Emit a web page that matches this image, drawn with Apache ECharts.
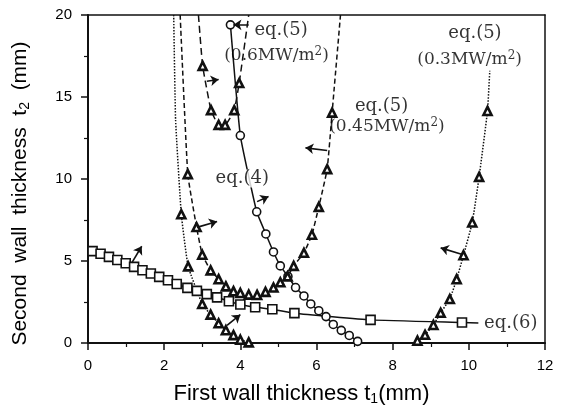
<!DOCTYPE html>
<html>
<head>
<meta charset="utf-8">
<script src="https://cdn.jsdelivr.net/npm/echarts@6/dist/echarts.min.js"></script>
<style>
  html, body { margin: 0; padding: 0; background: #fff; }
  #main { width: 569px; height: 411px; }
</style>
</head>
<body>
<div id="main"></div>
<script>
// axis ticks
var xTicks = [0, 2, 4, 6, 8, 10, 12];
var yTicks = [0, 5, 10, 15, 20];

// eq.(6) - squares
var eq6_t1 = [0.12, 0.33, 0.55, 0.77, 0.99, 1.21, 1.43, 1.65, 1.87, 2.1, 2.33, 2.61, 2.86, 3.12, 3.39, 3.7, 4.0, 4.39, 4.84, 5.42, 7.42, 9.82, 10.25];
var eq6_t2 = [5.6, 5.44, 5.25, 5.06, 4.86, 4.64, 4.44, 4.24, 4.03, 3.83, 3.6, 3.36, 3.18, 2.98, 2.78, 2.55, 2.35, 2.18, 2.06, 1.82, 1.41, 1.25, 1.22];
var eq6_plain = [22];

// eq.(4) - circles
var eq4_t1 = [3.74, 4.0, 4.43, 4.67, 4.87, 5.05, 5.25, 5.45, 5.67, 5.85, 6.06, 6.25, 6.44, 6.65, 6.86, 7.08];
var eq4_t2 = [19.4, 12.65, 8.0, 6.65, 5.55, 4.7, 4.06, 3.38, 2.87, 2.38, 1.97, 1.61, 1.13, 0.77, 0.46, 0.1];

// eq.(5) 0.6 MW/m2
var q06_t1 = [2.9, 3.01, 3.23, 3.43, 3.6, 3.84, 3.97, 4.22];
var q06_t2 = [20, 16.9, 14.2, 13.3, 13.3, 14.2, 15.85, 20];
var q06_plain = [0, 7];

// eq.(5) 0.45 MW/m2
var q045_t1 = [2.42, 2.62, 2.85, 3.0, 3.22, 3.43, 3.62, 3.82, 4.0, 4.22, 4.44, 4.66, 4.87, 5.05, 5.24, 5.4, 5.67, 5.88, 6.06, 6.28, 6.41, 6.63];
var q045_t2 = [20, 10.3, 7.07, 5.38, 4.43, 3.89, 3.45, 3.16, 3.05, 2.95, 2.93, 3.12, 3.38, 3.7, 4.06, 4.7, 5.5, 6.6, 8.3, 10.6, 14.05, 20];
var q045_plain = [0, 21];

// eq.(5) 0.3 MW/m2 (two branches)
var q03a_t1 = [2.25, 2.3, 2.45, 2.63, 3.0, 3.22, 3.43, 3.62, 3.82, 4.0, 4.22];
var q03a_t2 = [20, 13.6, 7.85, 4.67, 2.38, 1.73, 1.2, 0.78, 0.48, 0.2, 0.04];
var q03a_plain = [0, 1];
var q03b_t1 = [8.65, 8.85, 9.07, 9.26, 9.5, 9.68, 9.86, 10.09, 10.27, 10.49, 10.55];
var q03b_t2 = [0.14, 0.5, 1.1, 1.84, 2.68, 3.89, 5.35, 7.35, 10.13, 14.15, 16.6];
var q03b_plain = [10];

// direction arrows [t1 start, t2 start, t1 end, t2 end]
var arrows = [
  [1.15, 4.89, 1.41, 5.9],
  [3.65, 1.07, 4.0, 1.73],
  [2.86, 7.05, 3.39, 7.41],
  [3.12, 15.96, 3.43, 16.07],
  [4.44, 8.62, 4.74, 8.93],
  [6.28, 11.74, 5.71, 11.9],
  [9.83, 5.4, 9.26, 5.8],
  [4.22, 19.4, 3.82, 19.4]
];

// curve labels
var labelText = ['eq.(5)', '(0.6MW/m{sup|2})', 'eq.(5)', '(0.45MW/m{sup|2})', 'eq.(5)', '(0.3MW/m{sup|2})', 'eq.(4)', 'eq.(6)'];
var labelT1 = [5.07, 4.95, 7.71, 7.85, 10.16, 10.02, 4.05, 11.1];
var labelT2 = [19.09, 17.52, 14.44, 13.17, 18.91, 17.28, 10.03, 1.21];
var labelBig = [true, false, true, false, true, false, true, true];

var chart = echarts.init(document.getElementById('main'));

function pts(xs, ys, plain) {
  return xs.map(function (x, i) {
    var item = { value: [x, ys[i]] };
    if (plain && plain.indexOf(i) >= 0) item.symbol = 'none';
    return item;
  });
}

function curve(data, symbol, size, dash) {
  return {
    type: 'line',
    data: data,
    symbol: symbol,
    symbolSize: size,
    smooth: 0.12,
    lineStyle: { color: '#111', width: 1.5, type: dash },
    itemStyle: { color: '#fff', borderColor: '#111', borderWidth: symbol === 'triangle' ? 2.6 : 1.6 },
    z: 3
  };
}

var serif = 'DejaVu Serif';
var sans = 'Liberation Sans';

var option = {
  backgroundColor: '#fff',
  animation: false,
  grid: { left: 88, right: 24, top: 15, bottom: 65 },
  xAxis: [{
    type: 'value', min: 0, max: 12, interval: 2,
    name: 'First wall thickness t{sub|1}(mm)',
    nameLocation: 'middle', nameGap: 39,
    nameTextStyle: {
      color: '#000', fontFamily: sans, fontSize: 22, padding: [0, 30, 0, 0],
      rich: { sub: { fontFamily: sans, fontSize: 14, padding: [10, 0, 0, 0] } }
    },
    axisLine: { lineStyle: { color: '#111', width: 2 } },
    axisTick: { inside: false, length: 7, lineStyle: { color: '#111', width: 1.5 } },
    minorTick: { show: true, splitNumber: 2, length: 4, lineStyle: { color: '#111', width: 1.2 } },
    axisLabel: { color: '#000', fontFamily: sans, fontSize: 15, margin: 15,
      formatter: function (v) { return xTicks.indexOf(v) >= 0 ? String(v) : ''; } },
    splitLine: { show: false }
  }, {
    type: 'value', min: 0, max: 12, position: 'top',
    axisLine: { onZero: false, lineStyle: { color: '#111', width: 1.5 } },
    axisTick: { show: false }, axisLabel: { show: false }, splitLine: { show: false }
  }],
  yAxis: [{
    type: 'value', min: 0, max: 20, interval: 5,
    name: 'Second  wall  thickness  t{sub|2}  (mm)',
    nameLocation: 'middle', nameGap: 56, nameRotate: 90,
    nameTextStyle: {
      color: '#000', fontFamily: sans, fontSize: 21, padding: [0, 29, 0, 0],
      rich: { sub: { fontFamily: sans, fontSize: 14, padding: [10, 0, 0, 0] } }
    },
    axisLine: { lineStyle: { color: '#111', width: 2 } },
    axisTick: { inside: false, length: 7, lineStyle: { color: '#111', width: 1.5 } },
    minorTick: { show: true, splitNumber: 2, length: 4, lineStyle: { color: '#111', width: 1.2 } },
    axisLabel: { color: '#000', fontFamily: sans, fontSize: 15, margin: 16,
      formatter: function (v) { return yTicks.indexOf(v) >= 0 ? String(v) : ''; } },
    splitLine: { show: false }
  }, {
    type: 'value', min: 0, max: 20, position: 'right',
    axisLine: { show: true, onZero: false, lineStyle: { color: '#111', width: 1.5 } },
    axisTick: { show: false }, axisLabel: { show: false }, splitLine: { show: false }
  }],
  series: [
    curve(pts(eq6_t1, eq6_t2, eq6_plain), 'rect', 9, 'solid'),
    curve(pts(eq4_t1, eq4_t2), 'circle', 8, 'solid'),
    curve(pts(q06_t1, q06_t2, q06_plain), 'triangle', 8, [7, 4]),
    curve(pts(q045_t1, q045_t2, q045_plain), 'triangle', 8, [5, 3]),
    curve(pts(q03a_t1, q03a_t2, q03a_plain), 'triangle', 8, [1.5, 1.5]),
    curve(pts(q03b_t1, q03b_t2, q03b_plain), 'triangle', 8, [1.5, 1.5]),
    {
      type: 'lines',
      coordinateSystem: 'cartesian2d',
      symbol: ['none', 'arrow'],
      symbolSize: 8,
      lineStyle: { color: '#111', width: 1.6, opacity: 1 },
      data: arrows.map(function (a) { return { coords: [[a[0], a[1]], [a[2], a[3]]] }; }),
      z: 4
    },
    {
      type: 'scatter',
      symbolSize: 0,
      z: 5,
      data: labelText.map(function (t, i) {
        return {
          value: [labelT1[i], labelT2[i]],
          label: {
            show: true, position: 'inside', formatter: t,
            color: '#000', fontFamily: serif,
            fontSize: labelBig[i] ? 18 : 17,
            backgroundColor: labelBig[i] ? '#fff' : 'transparent',
            padding: [0, 1],
            rich: { sup: { fontFamily: serif, fontSize: 12, padding: [0, 0, 8, 0] } }
          }
        };
      })
    }
  ]
};

chart.setOption(option);
window.onresize = chart.resize;
</script>
</body>
</html>
